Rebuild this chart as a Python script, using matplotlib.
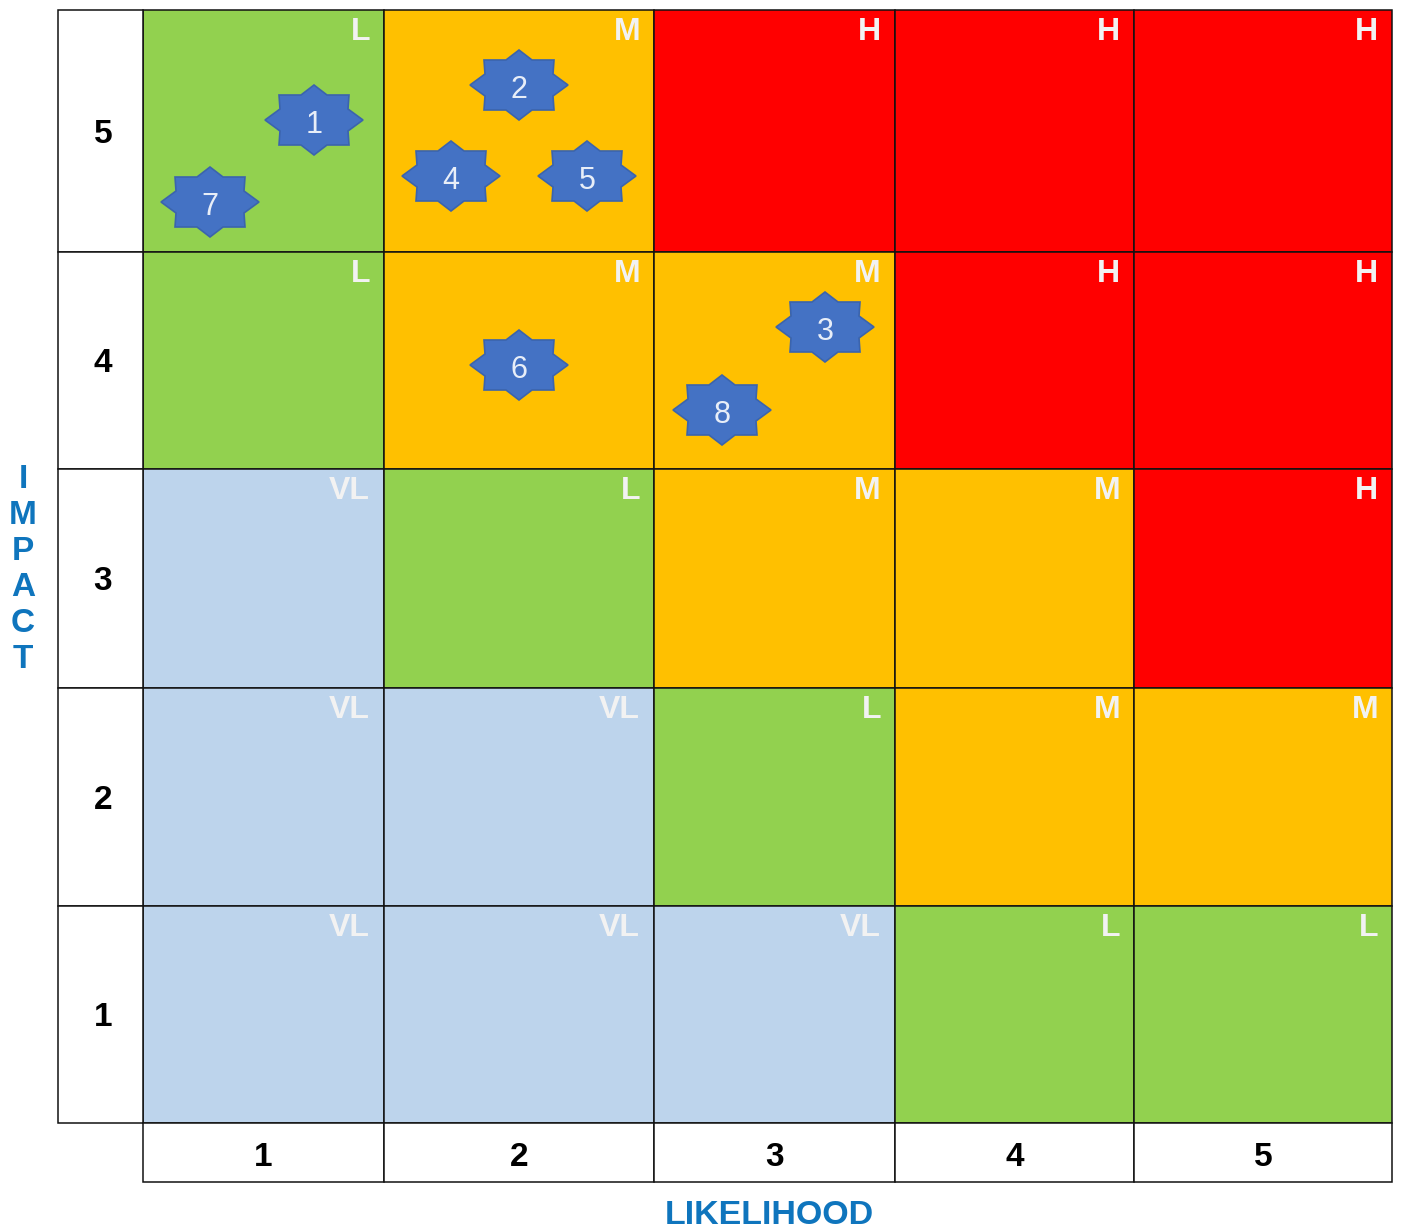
import matplotlib
matplotlib.use("Agg")
import matplotlib.pyplot as plt
from matplotlib.patches import Polygon, Rectangle

plt.rcParams['font.family'] = ['Liberation Sans', 'DejaVu Sans']

likelihood = [1, 2, 3, 4, 5]
impact = [5, 4, 3, 2, 1]
ratings = [
    ["L", "M", "H", "H", "H"],
    ["L", "M", "M", "H", "H"],
    ["VL", "L", "M", "M", "H"],
    ["VL", "VL", "L", "M", "M"],
    ["VL", "VL", "VL", "L", "L"],
]
risk_ids = [1, 2, 3, 4, 5, 6, 7, 8]
risk_x = [314, 519, 825, 451, 587, 519, 210, 722]
risk_y = [120, 85, 327, 176, 176, 365, 202, 410]

col_edges = [143, 384, 654, 895, 1134, 1392]
row_edges = [10, 252, 469, 688, 906, 1123]
left_edge = 58
bottom_edge = 1182

colors = {"VL": "#bdd4ec", "L": "#92d14f", "M": "#ffc000", "H": "#ff0000"}
star_shape = [(0, -35), (13, -25), (35, -25), (34, -11), (49, 0), (34, 11), (35, 25),
              (13, 25), (0, 35), (-13, 25), (-35, 25), (-34, 11), (-49, 0), (-34, -11),
              (-35, -25), (-13, -25)]

fig = plt.figure(figsize=(14.02, 12.31), dpi=100)
ax = fig.add_axes([0, 0, 1, 1])
ax.set_xlim(0, 1402)
ax.set_ylim(1231, 0)
ax.axis("off")

# coloured cells
for r, row in enumerate(ratings):
    for c, rating in enumerate(row):
        x0, x1 = col_edges[c], col_edges[c + 1]
        y0, y1 = row_edges[r], row_edges[r + 1]
        ax.add_patch(Rectangle((x0, y0), x1 - x0, y1 - y0, fc=colors[rating], ec="#111111", lw=1.1, zorder=1))
        # right edge of the label sits a fixed distance in from the cell border
        ax.text(x1 - 14, y0 + 22, rating, color="#f2f2f2", fontsize=23, fontweight="bold",
                ha="right", va="center", zorder=2)

# impact axis cells
for r, val in enumerate(impact):
    y0, y1 = row_edges[r], row_edges[r + 1]
    ax.add_patch(Rectangle((left_edge, y0), col_edges[0] - left_edge, y1 - y0, fc="white", ec="#111111", lw=1.1, zorder=1))
    ax.text(103, (y0 + y1) / 2 + 3.5, str(val), fontsize=24, fontweight="bold", ha="center", va="center", color="black")

# likelihood axis cells
for c, val in enumerate(likelihood):
    x0, x1 = col_edges[c], col_edges[c + 1]
    ax.add_patch(Rectangle((x0, row_edges[-1]), x1 - x0, bottom_edge - row_edges[-1], fc="white", ec="#111111", lw=1.1, zorder=1))
    ax.text((x0 + x1) / 2, 1157, str(val), fontsize=24, fontweight="bold", ha="center", va="center", color="black")

# risks
for rid, x, y in zip(risk_ids, risk_x, risk_y):
    pts = [(x + dx, y + dy) for dx, dy in star_shape]
    ax.add_patch(Polygon(pts, closed=True, fc="#4472c4", ec="#3b64ad", lw=1.2, zorder=3))
    ax.text(x, y + 5, str(rid), color="#e8eef8", fontsize=22, ha="center", va="center", zorder=4)

# axis titles
for ch, y in zip("IMPACT", [480, 516, 551, 587, 624, 659]):
    ax.text(23, y, ch, color="#0f75bd", fontsize=24, fontweight="bold", ha="center", va="center")
ax.text(769, 1215, "LIKELIHOOD", color="#0f75bd", fontsize=24.5, fontweight="bold", ha="center", va="center")

fig.savefig("out.png", dpi=100)
